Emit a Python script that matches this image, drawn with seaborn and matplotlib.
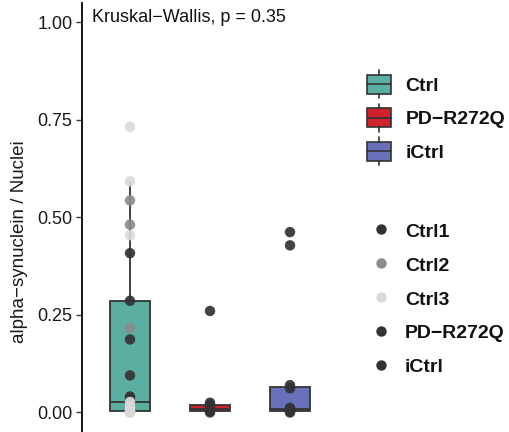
import numpy as np
import pandas as pd
import matplotlib
matplotlib.use("Agg")
import matplotlib.pyplot as plt
import seaborn as sns
from matplotlib.patches import Rectangle, Patch
from matplotlib.lines import Line2D
from matplotlib.legend_handler import HandlerBase

# ---- data ----
groups = ["Ctrl", "PD-R272Q", "iCtrl"]
group_labels = ["Ctrl", "PD\u2212R272Q", "iCtrl"]
lines = ["Ctrl1", "Ctrl2", "Ctrl3", "PD-R272Q", "iCtrl"]
line_labels = ["Ctrl1", "Ctrl2", "Ctrl3", "PD\u2212R272Q", "iCtrl"]
ctrl1 = [0.408, 0.286, 0.187, 0.095, 0.041, 0.035, 0.010]
ctrl2 = [0.543, 0.481, 0.216, 0.020, 0.005, 0.002]
ctrl3 = [0.732, 0.592, 0.454, 0.027, 0.015, 0.012, 0.008, 0.002, 0.001, 0.001, 0.000, 0.000]
pd_r272q = [0.260, 0.025, 0.020, 0.015, 0.010, 0.008, 0.005, 0.003, 0.000]
ictrl = [0.462, 0.428, 0.070, 0.062, 0.012, 0.008, 0.007, 0.006, 0.004, 0.002, 0.000]

group_colors = ["#5BAEA2", "#D1222B", "#6770B9"]
line_colors = ["#333333", "#8C8C8C", "#D9D9D9", "#333333", "#333333"]
y_ticks = [0.00, 0.25, 0.50, 0.75, 1.00]
y_ticklabels = ["0.00", "0.25", "0.50", "0.75", "1.00"]
annotation = "Kruskal\u2212Wallis, p = 0.35"
ylabel = "alpha\u2212synuclein / Nuclei"

rows = []
for g, ln, vals in [("Ctrl", "Ctrl1", ctrl1), ("Ctrl", "Ctrl2", ctrl2), ("Ctrl", "Ctrl3", ctrl3),
                    ("PD-R272Q", "PD-R272Q", pd_r272q), ("iCtrl", "iCtrl", ictrl)]:
    for v in vals:
        rows.append({"group": g, "line": ln, "value": v})
df = pd.DataFrame(rows)

sns.set_style("white")
plt.rcParams["font.family"] = ["Liberation Sans", "DejaVu Sans"]

W, H = 510, 432
fig = plt.figure(figsize=(W / 100, H / 100), dpi=100)
ax = fig.add_axes([82 / W, 0.0, 256 / W, 429.5 / H])

sns.boxplot(data=df, x="group", y="value", hue="group", order=groups, hue_order=groups,
            palette=group_colors, width=0.5, showfliers=False, showcaps=False,
            linecolor="#333333", linewidth=1.3, saturation=1, legend=False, ax=ax, zorder=2)
sns.stripplot(data=df, x="group", y="value", hue="line", order=groups, hue_order=lines,
              palette=line_colors, jitter=False, dodge=False, size=7.5, alpha=0.92,
              linewidth=0, legend=False, ax=ax, zorder=3)

ax.set_xlim(-0.6, 2.6)
ax.set_ylim(-0.05, 1.05)
ax.set_yticks(y_ticks)
ax.set_yticklabels(y_ticklabels, fontsize=13, color="#1a1a1a")
ax.set_xticks([])
ax.set_xlabel("")
ax.set_ylabel(ylabel, fontsize=13.5, color="#1a1a1a")
ax.yaxis.set_label_coords(-0.21, 0.442)
ax.tick_params(axis="y", length=4, width=1, color="#333333", left=True, pad=3)
for s in ["top", "right"]:
    ax.spines[s].set_visible(False)
ax.spines["left"].set_linewidth(1.3)
ax.spines["left"].set_color("black")
ax.spines["bottom"].set_color("#eeeeee")
ax.set_facecolor("white")

ax.text((92 - 82) / 256, 1 - (17 - 2.5) / 429.5, annotation, transform=ax.transAxes,
        fontsize=13, va="center", ha="left", color="#111111")


class BoxHandler(HandlerBase):
    def create_artists(self, legend, orig_handle, xdescent, ydescent, width, height, fontsize, trans):
        fc = orig_handle.get_facecolor()
        x0 = -xdescent
        cy = -ydescent + height / 2
        cx = x0 + width / 2
        total = 1.44 * fontsize
        bh = 0.98 * fontsize
        by = cy - bh / 2
        ec = "#333333"
        rect = Rectangle((x0, by), width, bh, facecolor=fc, edgecolor=ec, lw=1.2, transform=trans)
        med = Line2D([x0, x0 + width], [cy, cy], color=ec, lw=1.2, transform=trans)
        w1 = Line2D([cx, cx], [cy - total / 2, by], color=ec, lw=1.2, transform=trans)
        w2 = Line2D([cx, cx], [by + bh, cy + total / 2], color=ec, lw=1.2, transform=trans)
        return [rect, med, w1, w2]


box_handles = [Patch(facecolor=c) for c in group_colors]
leg1 = fig.legend(box_handles, group_labels, handler_map={Patch: BoxHandler()},
                  loc="upper left", bbox_to_anchor=(367 / W, 1 - 73 / H),
                  frameon=False, borderpad=0, borderaxespad=0,
                  handlelength=1.25, handleheight=1.44, handletextpad=0.72,
                  labelspacing=0.54, prop={"size": 14, "weight": "bold"})
for t in leg1.get_texts():
    t.set_color("#111111")

dot_handles = [Line2D([], [], marker="o", linestyle="none", markersize=7.5,
                      markerfacecolor=c, markeredgewidth=0) for c in line_colors]
leg2 = fig.legend(dot_handles, line_labels, loc="upper left", bbox_to_anchor=(371 / W, 1 - 221.5 / H),
                  frameon=False, borderpad=0, borderaxespad=0,
                  handlelength=1.0, handleheight=1.0, handletextpad=0.75,
                  labelspacing=0.745, prop={"size": 14, "weight": "bold"})
for t in leg2.get_texts():
    t.set_color("#111111")

fig.savefig("out.png", dpi=100, facecolor="white")
